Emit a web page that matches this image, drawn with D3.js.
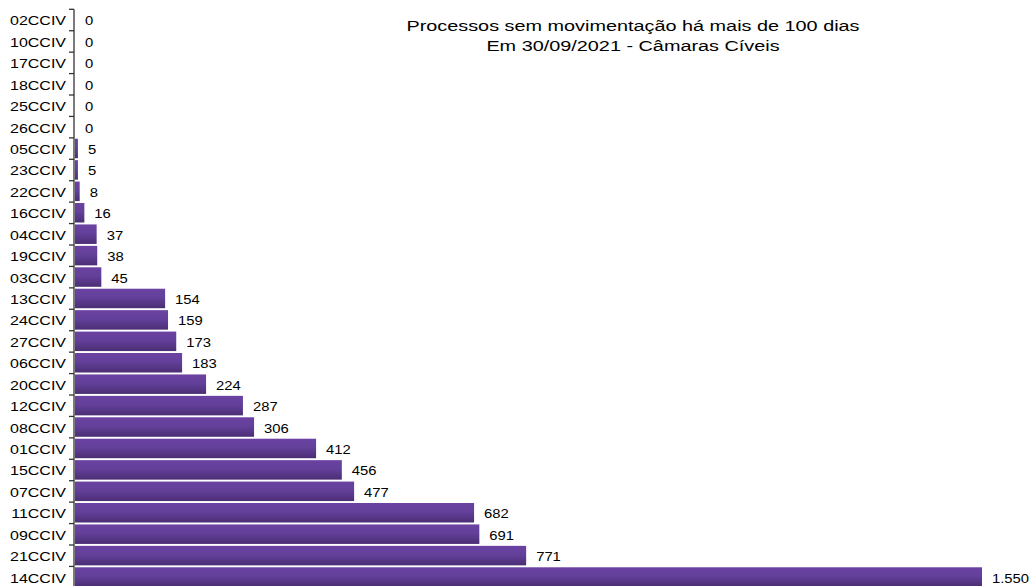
<!DOCTYPE html>
<html>
<head>
<meta charset="utf-8">
<script src="https://cdn.jsdelivr.net/npm/d3@7"></script>
<style>
  body { margin: 0; background: #fff; }
  svg { display: block; font-family: "Liberation Sans", Arial, sans-serif; }
</style>
</head>
<body>
<svg id="chart" width="1031" height="586"></svg>
<script>
const categories = [
    "02CCIV", "10CCIV", "17CCIV", "18CCIV", "25CCIV", "26CCIV", "05CCIV",
    "23CCIV", "22CCIV", "16CCIV", "04CCIV", "19CCIV", "03CCIV", "13CCIV",
    "24CCIV", "27CCIV", "06CCIV", "20CCIV", "12CCIV", "08CCIV", "01CCIV",
    "15CCIV", "07CCIV", "11CCIV", "09CCIV", "21CCIV", "14CCIV",
];
const values = [
    0, 0, 0, 0, 0, 0, 5,
    5, 8, 16, 37, 38, 45, 154,
    159, 173, 183, 224, 287, 306, 412,
    456, 477, 682, 691, 771, 1550,
];
const titleLines = [
    "Processos sem movimentação há mais de 100 dias",
    "Em 30/09/2021 - Câmaras Cíveis",
];

const data = categories.map((c, i) => ({ name: c, value: values[i] }));

const svg = d3.select("#chart");
const height = 586;
const axisX = 74;

const locale = d3.formatLocale({ decimal: ",", thousands: ".", grouping: [3], currency: ["R$", ""] });
const fmt = locale.format(",d");

const x = d3.scaleLinear()
    .domain([0, 1550])
    .range([axisX + 1, 982]);

const y = d3.scaleBand()
    .domain(categories)
    .range([9.3, 9.3 + 21.42 * categories.length])
    .paddingInner(0.09)
    .paddingOuter(0.04);

// gradient for the bars
const grad = svg.append("defs")
    .append("linearGradient")
    .attr("id", "barGrad")
    .attr("x1", 0).attr("y1", 0)
    .attr("x2", 0).attr("y2", 1);
grad.append("stop").attr("offset", "0%").attr("stop-color", "#6b42a2");
grad.append("stop").attr("offset", "45%").attr("stop-color", "#63409a");
grad.append("stop").attr("offset", "100%").attr("stop-color", "#4b2e74");

// Bars
svg.append("g")
    .selectAll("rect")
    .data(data)
    .join("rect")
    .attr("x", x(0))
    .attr("y", (d) => y(d.name))
    .attr("width", (d) => x(d.value) - x(0))
    .attr("height", y.bandwidth())
    .attr("fill", "url(#barGrad)");

// Value labels (text looks horizontally stretched in the original)
svg.append("g")
    .selectAll("text")
    .data(data)
    .join("text")
    .attr("transform", (d) =>
        `translate(${x(d.value) + 10},${y(d.name) + y.bandwidth() / 2 + 5.5}) scale(1.14,1)`)
    .attr("font-size", 13)
    .attr("fill", "#000")
    .text((d) => fmt(d.value));

// Axis: line, ticks at band boundaries, category labels
const axis = svg.append("g");
const step = y.step();
const y0 = y.range()[0];

axis.append("line")
    .attr("x1", axisX).attr("x2", axisX)
    .attr("y1", y0).attr("y2", height)
    .attr("stroke", "#333")
    .attr("stroke-width", 1.3);

axis.selectAll("line.tick")
    .data(d3.range(categories.length + 1))
    .join("line")
    .attr("class", "tick")
    .attr("x1", axisX - 5).attr("x2", axisX)
    .attr("y1", (i) => y0 + i * step)
    .attr("y2", (i) => y0 + i * step)
    .attr("stroke", "#333")
    .attr("stroke-width", 1.3);

axis.selectAll("text")
    .data(categories)
    .join("text")
    .attr("transform", (d) =>
        `translate(${axisX - 8},${y(d) + y.bandwidth() / 2 + 5.5}) scale(1.23,1)`)
    .attr("text-anchor", "end")
    .attr("font-size", 13)
    .attr("fill", "#000")
    .text((d) => d);

// Title
svg.append("g")
    .selectAll("text")
    .data(titleLines)
    .join("text")
    .attr("transform", (d, i) => `translate(633,${31 + i * 20}) scale(1.28,1)`)
    .attr("text-anchor", "middle")
    .attr("font-size", 15.5)
    .attr("fill", "#000")
    .text((d) => d);
</script>
</body>
</html>
